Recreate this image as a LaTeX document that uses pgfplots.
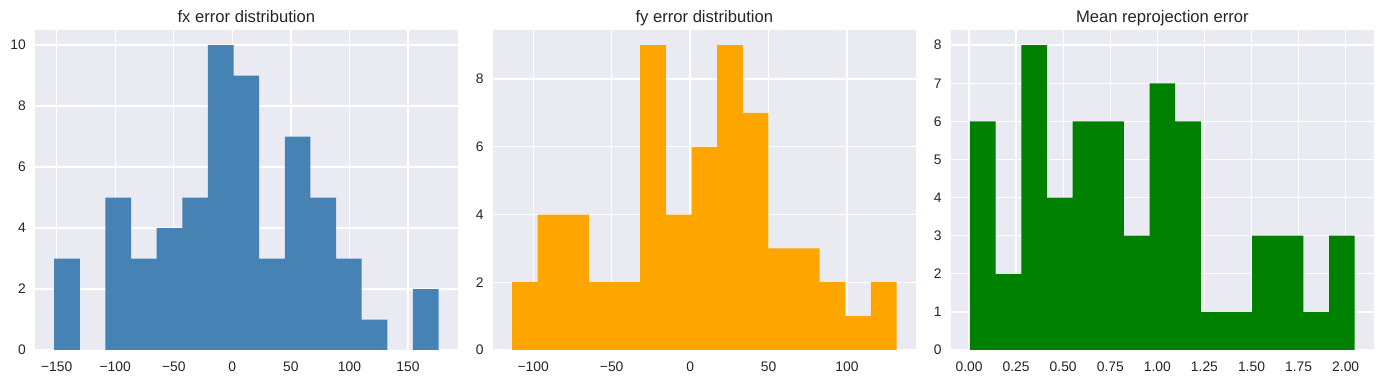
\documentclass[border=0pt]{standalone}
\usepackage{pgfplots}
\pgfplotsset{compat=1.18}
\usepackage{fontspec}
\setmainfont{Liberation Sans}
\definecolor{bgc}{HTML}{EAEAF2}
\definecolor{txt}{HTML}{262626}
\definecolor{c1}{HTML}{4682B4}
\definecolor{c2}{HTML}{FFA500}
\definecolor{c3}{HTML}{008000}
\pgfplotsset{
  panel/.style={
    scale only axis,
    width=305.8pt, height=231.3pt,
    anchor=south west,
    axis background/.style={fill=bgc},
    axis line style={draw=none},
    major tick length=0pt,
    grid=major,
    major grid style={white, line width=1pt},
    tick label style={font=\fontsize{10}{12}\selectfont, text=txt},
    xticklabel style={anchor=base, inner sep=0pt, yshift=-15.7pt},
    yticklabel style={anchor=east, inner sep=0pt, xshift=-6.5pt},
    title style={at={(0.5,1)}, anchor=base, inner sep=0pt, yshift=-0.4pt, font=\fontsize{12}{14}\selectfont, text=txt},
    enlargelimits=false,
  }
}
\begin{document}
\begin{tikzpicture}
\path[use as bounding box, fill=white] (0,0) rectangle (1000.2pt,277.5pt);
\begin{axis}[panel, at={(25.29pt,24.57pt)}, width=305.5pt,
  title={fx error distribution},
  xmin=-168.5, xmax=192.5, ymin=0, ymax=10.5,
  xtick={-150,-100,-50,0,50,100,150},
  xticklabels={−150,−100,−50,0,50,100,150},
  ytick={0,2,4,6,8,10}, yticklabels={0,2,4,6,8,10}]
\addplot[ybar interval, fill=c1, draw=none] coordinates {
(-152.10,3) (-130.22,0) (-108.34,5) (-86.46,3) (-64.58,4) (-42.70,5)
(-20.82,10) (1.06,9) (22.94,3) (44.82,7) (66.70,5) (88.58,3)
(110.46,1) (132.34,0) (154.22,2) (176.10,2)};
\end{axis}
\begin{axis}[panel, at={(356.1pt,24.57pt)},
  title={fy error distribution},
  xmin=-125.8, xmax=143.9, ymin=0, ymax=9.45,
  xtick={-100,-50,0,50,100},
  xticklabels={−100,−50,0,50,100},
  ytick={0,2,4,6,8}, yticklabels={0,2,4,6,8}]
\addplot[ybar interval, fill=c2, draw=none] coordinates {
(-113.50,2) (-97.16,4) (-80.82,4) (-64.48,2) (-48.14,2) (-31.80,9)
(-15.46,4) (0.88,6) (17.22,9) (33.56,7) (49.90,3) (66.24,3)
(82.58,2) (98.92,1) (115.26,2) (131.60,2)};
\end{axis}
\begin{axis}[panel, at={(687.1pt,24.57pt)},
  title={Mean reprojection error},
  xmin=-0.097, xmax=2.15, ymin=0, ymax=8.4,
  xtick={0,0.25,0.5,0.75,1,1.25,1.5,1.75,2},
  xticklabels={0.00,0.25,0.50,0.75,1.00,1.25,1.50,1.75,2.00},
  ytick={0,1,2,3,4,5,6,7,8}, yticklabels={0,1,2,3,4,5,6,7,8}]
\addplot[ybar interval, fill=c3, draw=none] coordinates {
(0.0050,6) (0.1412,2) (0.2774,8) (0.4136,4) (0.5498,6) (0.6860,6)
(0.8222,3) (0.9584,7) (1.0946,6) (1.2308,1) (1.3670,1) (1.5032,3)
(1.6394,3) (1.7756,1) (1.9118,3) (2.0480,3)};
\end{axis}
\end{tikzpicture}
\end{document}
